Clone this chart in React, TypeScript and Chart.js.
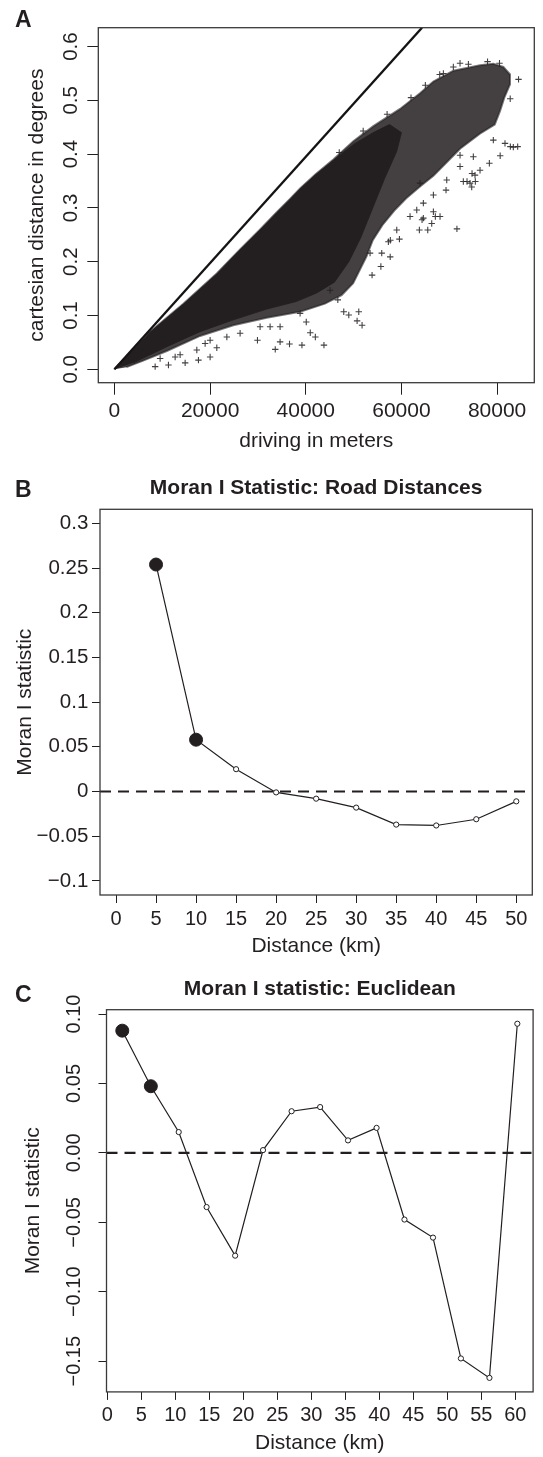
import React, { useEffect, useRef } from 'react';
import { Chart, registerables } from 'chart.js';

Chart.register(...registerables);

const FONT = '"Liberation Sans", Arial, Helvetica, sans-serif';
const INK = '#231f20';
const PAGE_W = 543;

// ---------------- Panel A: driving vs cartesian distance ----------------
const A_X_TICKS = [0, 20000, 40000, 60000, 80000];
const A_X_LABELS = ['0', '20000', '40000', '60000', '80000'];
const A_Y_TICKS = [0, 0.1, 0.2, 0.3, 0.4, 0.5, 0.6];
const A_Y_LABELS = ['0.0', '0.1', '0.2', '0.3', '0.4', '0.5', '0.6'];

// reference line (abline)
const A_LINE_X = [0, 64300];
const A_LINE_Y = [0, 0.635];

// envelope of the moderately dense point cloud
const A_OUTER_X = [0, 1500, 3970, 7460, 14420, 21400, 26270, 30450, 33940, 36660, 38810, 42000, 45770, 49950, 54130, 59710, 63890, 66680, 70850, 76430, 79210, 81300, 82700, 82700, 81500, 80600, 79500, 76400, 72250, 69470, 66680, 63890, 61000, 58500, 56000, 54000, 52700, 51300, 49900, 47500, 44000, 38810, 31850, 24870, 17900, 10950, 6000, 2500];
const A_OUTER_Y = [0, 0.014, 0.036, 0.070, 0.122, 0.178, 0.223, 0.260, 0.292, 0.316, 0.336, 0.362, 0.390, 0.424, 0.452, 0.484, 0.513, 0.535, 0.555, 0.565, 0.568, 0.562, 0.548, 0.530, 0.505, 0.480, 0.455, 0.438, 0.410, 0.385, 0.360, 0.340, 0.318, 0.295, 0.268, 0.240, 0.210, 0.185, 0.160, 0.138, 0.122, 0.107, 0.096, 0.082, 0.062, 0.034, 0.016, 0.004];

// envelope of the saturated core of the cloud
const A_CORE_X = [0, 1500, 3970, 7460, 14420, 21400, 26270, 30450, 33940, 36660, 38810, 42000, 45770, 49950, 54130, 57500, 60000, 59000, 56500, 54000, 51500, 49000, 46000, 42300, 38000, 31850, 24870, 17900, 10950, 3970];
const A_CORE_Y = [0, 0.014, 0.036, 0.069, 0.121, 0.177, 0.222, 0.259, 0.291, 0.315, 0.335, 0.361, 0.388, 0.418, 0.440, 0.455, 0.440, 0.405, 0.355, 0.300, 0.245, 0.200, 0.162, 0.142, 0.126, 0.112, 0.092, 0.070, 0.042, 0.012];

// individually visible "+" marks (edges and outliers)
const A_CROSS_X = [8510, 11290, 14780, 13730, 9550, 12690, 17560, 20000, 21400, 18960, 17220, 20000, 23500, 26270, 29900, 30450, 32540, 34630, 34630, 33620, 36600, 39200, 43800, 42000, 40940, 40100, 38810, 45080, 46700, 47940, 48990, 50730, 51770, 51080, 53860, 55700, 57650, 53440, 55880, 57680, 59580, 57270, 59020, 63750, 65500, 64310, 61800, 63200, 64580, 66330, 66680, 67090, 68070, 71600, 64580, 66680, 69320, 69470, 63890, 72940, 73710, 74340, 74690, 75450, 75380, 74760, 76430, 72250, 78380, 75030, 72250, 80640, 83390, 82770, 84300, 81650, 79210, 82740, 84480, 70850, 72250, 68770, 62000, 65000, 68000, 74000, 78000, 80500, 57000, 52000, 47000];
const A_CROSS_Y = [0.005, 0.008, 0.012, 0.027, 0.020, 0.023, 0.017, 0.023, 0.040, 0.048, 0.036, 0.054, 0.060, 0.067, 0.054, 0.079, 0.079, 0.079, 0.051, 0.037, 0.047, 0.045, 0.045, 0.060, 0.068, 0.088, 0.104, 0.147, 0.129, 0.107, 0.101, 0.090, 0.082, 0.107, 0.175, 0.191, 0.209, 0.216, 0.216, 0.240, 0.242, 0.237, 0.259, 0.259, 0.259, 0.278, 0.284, 0.296, 0.281, 0.271, 0.293, 0.284, 0.284, 0.261, 0.309, 0.324, 0.333, 0.352, 0.346, 0.349, 0.349, 0.346, 0.339, 0.349, 0.361, 0.364, 0.370, 0.377, 0.383, 0.395, 0.398, 0.397, 0.413, 0.414, 0.414, 0.420, 0.426, 0.503, 0.539, 0.562, 0.569, 0.550, 0.505, 0.528, 0.548, 0.567, 0.572, 0.569, 0.474, 0.443, 0.403];

// ---------------- Panel B: Moran I, road distances ----------------
const B_X = [5, 10, 15, 20, 25, 30, 35, 40, 45, 50];
const B_Y = [0.254, 0.058, 0.025, -0.001, -0.008, -0.018, -0.037, -0.038, -0.031, -0.011];
const B_SIGNIFICANT = [true, true, false, false, false, false, false, false, false, false];
const B_X_TICKS = [0, 5, 10, 15, 20, 25, 30, 35, 40, 45, 50];
const B_X_LABELS = ['0', '5', '10', '15', '20', '25', '30', '35', '40', '45', '50'];
const B_Y_TICKS = [-0.1, -0.05, 0, 0.05, 0.1, 0.15, 0.2, 0.25, 0.3];
const B_Y_LABELS = ['\u22120.1', '\u22120.05', '0', '0.05', '0.1', '0.15', '0.2', '0.25', '0.3'];
const B_ZERO_X = [-2, 52];

// ---------------- Panel C: Moran I, Euclidean ----------------
const C_X = [2.2, 6.4, 10.5, 14.6, 18.8, 22.9, 27.1, 31.3, 35.4, 39.6, 43.7, 47.9, 52.0, 56.2, 60.3];
const C_Y = [0.088, 0.048, 0.015, -0.039, -0.074, 0.002, 0.030, 0.033, 0.009, 0.018, -0.048, -0.061, -0.148, -0.162, 0.093];
const C_SIGNIFICANT = [true, true, false, false, false, false, false, false, false, false, false, false, false, false, false];
const C_X_TICKS = [0, 5, 10, 15, 20, 25, 30, 35, 40, 45, 50, 55, 60];
const C_X_LABELS = ['0', '5', '10', '15', '20', '25', '30', '35', '40', '45', '50', '55', '60'];
const C_Y_TICKS = [-0.15, -0.1, -0.05, 0, 0.05, 0.1];
const C_Y_LABELS = ['\u22120.15', '\u22120.10', '\u22120.05', '0.00', '0.05', '0.10'];
const C_ZERO_X = [-0.12, 62.62];

const pts = (xs: number[], ys: number[]) => xs.map((x, i) => ({ x, y: ys[i] }));

function decorPlugin(letter: string, baseline: number, rot?: { values: number[]; labels: string[]; cx: number; size: number }) {
  return {
    id: 'decor' + letter,
    afterDraw(chart: any) {
      const { ctx, chartArea: a } = chart;
      ctx.save();
      ctx.strokeStyle = '#3a3a3a';
      ctx.lineWidth = 1.3;
      ctx.strokeRect(a.left, a.top, a.right - a.left, a.bottom - a.top);
      ctx.fillStyle = INK;
      ctx.font = `bold 23px ${FONT}`;
      ctx.textAlign = 'left';
      ctx.textBaseline = 'alphabetic';
      ctx.fillText(letter, 15, baseline);
      if (rot) {
        const ys = chart.scales.y;
        ctx.font = `${rot.size}px ${FONT}`;
        ctx.textAlign = 'center';
        ctx.textBaseline = 'middle';
        rot.values.forEach((v, i) => {
          const py = ys.getPixelForValue(v);
          ctx.save();
          ctx.translate(rot.cx, py);
          ctx.rotate(-Math.PI / 2);
          ctx.fillText(rot.labels[i], 0, 0);
          ctx.restore();
        });
      }
      ctx.restore();
    },
  };
}

function xAxis(min: number, max: number, ticks: number[], labels: string[], size: number, tickLen: number, pad: number, height: number, title: string, titlePad: number) {
  return {
    type: 'linear',
    min,
    max,
    bounds: 'data',
    afterBuildTicks: (s: any) => { s.ticks = ticks.map((v) => ({ value: v })); },
    afterFit: (s: any) => { s.height = height; },
    grid: { display: true, drawOnChartArea: false, drawTicks: true, tickLength: tickLen, color: INK, lineWidth: 1 },
    border: { display: false },
    ticks: { autoSkip: false, maxRotation: 0, minRotation: 0, padding: pad, color: INK, font: { family: FONT, size, lineHeight: 1 }, callback: (_v: any, i: number) => labels[i] },
    title: { display: true, text: title, color: INK, font: { family: FONT, size: 21, lineHeight: 1 }, padding: { top: 0, bottom: titlePad } },
  };
}

function yAxis(min: number, max: number, ticks: number[], labels: string[] | null, size: number, tickLen: number, pad: number, width: number, title: string, titlePad: number) {
  return {
    type: 'linear',
    min,
    max,
    bounds: 'data',
    afterBuildTicks: (s: any) => { s.ticks = ticks.map((v) => ({ value: v })); },
    afterFit: (s: any) => { s.width = width; },
    grid: { display: true, drawOnChartArea: false, drawTicks: true, tickLength: tickLen, color: INK, lineWidth: 1 },
    border: { display: false },
    ticks: labels
      ? { display: true, autoSkip: false, padding: pad, color: INK, font: { family: FONT, size, lineHeight: 1 }, callback: (_v: any, i: number) => labels[i] }
      : { display: false },
    title: { display: true, text: title, color: INK, font: { family: FONT, size: 21, lineHeight: 1 }, padding: { top: titlePad, bottom: 0 } },
  };
}

function buildA(): any {
  return {
    type: 'scatter',
    data: {
      datasets: [
        { data: pts(A_LINE_X, A_LINE_Y), showLine: true, borderColor: '#161314', borderWidth: 2.3, pointRadius: 0 },
        { data: pts(A_CROSS_X, A_CROSS_Y), pointStyle: 'cross', pointRadius: 3.2, pointBorderWidth: 1.1, borderColor: 'rgba(35,31,32,0.85)', backgroundColor: 'rgba(35,31,32,0.85)' },
        { data: pts(A_CORE_X, A_CORE_Y), showLine: true, fill: 'shape', backgroundColor: 'rgba(35,31,32,1)', borderColor: 'rgba(35,31,32,0.9)', borderWidth: 1, pointRadius: 0 },
        { data: pts(A_OUTER_X, A_OUTER_Y), showLine: true, fill: 'shape', backgroundColor: 'rgba(35,31,32,0.85)', borderColor: 'rgba(35,31,32,0.6)', borderWidth: 2, pointRadius: 0 },
      ],
    },
    options: {
      animation: false,
      responsive: false,
      maintainAspectRatio: false,
      events: [],
      layout: { padding: { top: 27.7, right: 8.7, left: 0, bottom: 0 } },
      plugins: { legend: { display: false }, tooltip: { enabled: false }, title: { display: false } },
      scales: {
        x: xAxis(-3376, 87776, A_X_TICKS, A_X_LABELS, 21, 12, 6.5, 77.3, 'driving in meters', 7.8),
        y: yAxis(-0.0249, 0.635, A_Y_TICKS, null, 20, 11, 0, 98.3, 'cartesian distance in degrees', 26.5),
      },
    },
    plugins: [decorPlugin('A', 27.3, { values: A_Y_TICKS, labels: A_Y_LABELS, cx: 71.7, size: 20.5 })],
  };
}

function moranDatasets(xs: number[], ys: number[], sig: boolean[], zeroX: number[]) {
  return [
    {
      data: pts(xs, ys),
      showLine: true,
      borderColor: INK,
      borderWidth: 1.2,
      pointStyle: 'circle',
      pointRadius: sig.map((s) => (s ? 6.5 : 2.6)),
      pointBackgroundColor: sig.map((s) => (s ? INK : '#ffffff')),
      pointBorderColor: INK,
      pointBorderWidth: 1,
    },
    { data: zeroX.map((x) => ({ x, y: 0 })), showLine: true, borderColor: INK, borderWidth: 2.2, borderDash: [11, 7], pointRadius: 0 },
  ];
}

function buildB(): any {
  return {
    type: 'scatter',
    data: { datasets: moranDatasets(B_X, B_Y, B_SIGNIFICANT, B_ZERO_X) },
    options: {
      animation: false,
      responsive: false,
      maintainAspectRatio: false,
      events: [],
      layout: { padding: { top: 0, right: 10.7, left: 0, bottom: 0 } },
      plugins: {
        legend: { display: false },
        tooltip: { enabled: false },
        title: { display: true, text: 'Moran I Statistic: Road Distances', fullSize: false, color: INK, font: { family: FONT, size: 21, weight: 'bold', lineHeight: 1 }, padding: { top: 17.8, bottom: 10.5 } },
      },
      scales: {
        x: xAxis(-2, 52, B_X_TICKS, B_X_LABELS, 20, 8, 6, 65, 'Distance (km)', 3.5),
        y: yAxis(-0.1158, 0.3158, B_Y_TICKS, B_Y_LABELS, 20.5, 8, 3.7, 100, 'Moran I statistic', 14.5),
      },
    },
    plugins: [decorPlugin('B', 36.7)],
  };
}

function buildC(): any {
  return {
    type: 'scatter',
    data: { datasets: moranDatasets(C_X, C_Y, C_SIGNIFICANT, C_ZERO_X) },
    options: {
      animation: false,
      responsive: false,
      maintainAspectRatio: false,
      events: [],
      layout: { padding: { top: 0, right: 9.9, left: 0, bottom: 0 } },
      plugins: {
        legend: { display: false },
        tooltip: { enabled: false },
        title: { display: true, text: 'Moran I statistic: Euclidean', fullSize: false, color: INK, font: { family: FONT, size: 21, weight: 'bold', lineHeight: 1 }, padding: { top: 18.5, bottom: 10.2 } },
      },
      scales: {
        x: xAxis(-0.12, 62.62, C_X_TICKS, C_X_LABELS, 20, 8, 5.1, 65.1, 'Distance (km)', 3.2),
        y: yAxis(-0.1721, 0.1031, C_Y_TICKS, null, 20, 8, 0, 106.5, 'Moran I statistic', 22.5),
      },
    },
    plugins: [decorPlugin('C', 41.5, { values: C_Y_TICKS, labels: C_Y_LABELS, cx: 74.7, size: 20 })],
  };
}

function ChartCanvas({ top, height, build }: { top: number; height: number; build: () => any }) {
  const ref = useRef<HTMLCanvasElement | null>(null);
  useEffect(() => {
    if (!ref.current) return;
    const chart = new Chart(ref.current, build());
    return () => chart.destroy();
  }, [build]);
  return (
    <canvas
      ref={ref}
      width={PAGE_W}
      height={height}
      style={{ position: 'absolute', left: 0, top, width: PAGE_W, height, display: 'block' }}
    />
  );
}

export default function App() {
  return (
    <div style={{ position: 'absolute', left: 0, top: 0, width: PAGE_W, height: 1457, background: '#ffffff', overflow: 'hidden' }}>
      <ChartCanvas top={0} height={460} build={buildA} />
      <ChartCanvas top={460} height={500} build={buildB} />
      <ChartCanvas top={960} height={497} build={buildC} />
    </div>
  );
}
